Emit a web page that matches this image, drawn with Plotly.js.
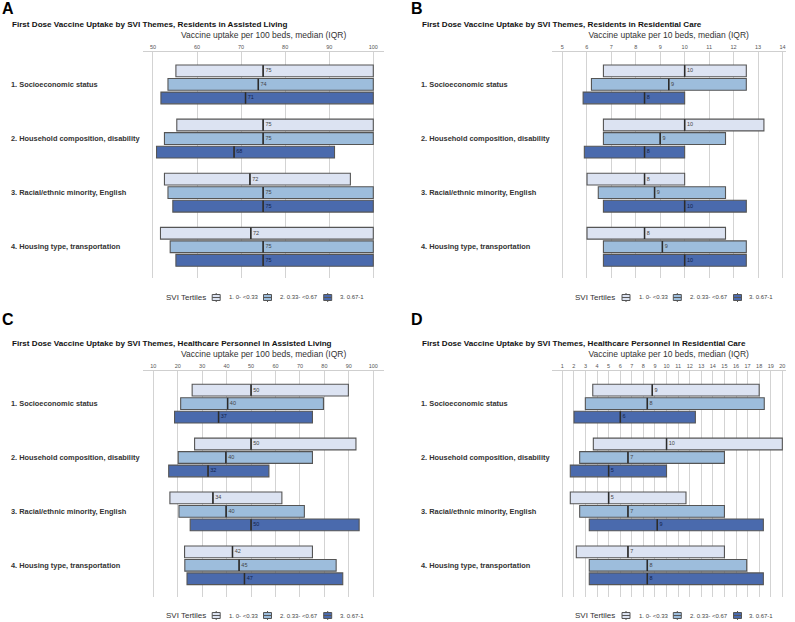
<!DOCTYPE html>
<html>
<head>
<meta charset="utf-8">
<script src="https://cdn.plot.ly/plotly-3.0.1.min.js"></script>
<style>
body { margin: 0; background: #fff; }
#chart { width: 795px; height: 622px; }
</style>
</head>
<body>
<div id="chart"></div>
<script>
var themes = ['1. Socioeconomic status', '2. Household composition, disability',
	'3. Racial/ethnic minority, English', '4. Housing type, transportation'];
var tertiles = ['1. 0- <0.33', '2. 0.33- <0.67', '3. 0.67-1'];
var fills = ['#dce3f2', '#9dbddc', '#4a6aad'];

// each array is [tertile][theme]
var aQ1 = [[55.2, 55.4, 52.6, 51.7], [53.4, 52.6, 53.4, 53.9], [51.8, 50.8, 54.5, 55.2]];
var aMed = [[75, 75, 72, 72.2], [73.9, 75, 75, 75], [71, 68.4, 75, 75]];
var aQ3 = [[100, 100, 94.8, 100], [100, 100, 100, 100], [100, 91.2, 100, 100]];

var bQ1 = [[6.68, 6.68, 6.01, 6.01], [6.19, 6.68, 6.47, 6.68], [5.85, 5.9, 6.68, 6.68]];
var bMed = [[10, 10, 8.36, 8.36], [9.35, 9, 8.77, 9.09], [8.36, 8.36, 10, 10]];
var bQ3 = [[12.52, 13.24, 10, 11.67], [12.52, 11.67, 11.67, 12.52], [10, 10, 12.52, 12.52]];

var cQ1 = [[25.9, 26.9, 16.8, 22.8], [21.2, 20.2, 20.5, 22.9], [18.7, 16.3, 25.1, 23.8]];
var cMed = [[50, 50, 34.4, 42.4], [40.4, 39.7, 39.8, 45.1], [36.7, 32.4, 50, 47.3]];
var cQ3 = [[89.8, 92.9, 62.6, 75.1], [79.6, 75.1, 71.8, 84.8], [75.1, 57.3, 94.2, 87.5]];

var dQ1 = [[3.63, 3.68, 1.69, 2.21], [2.99, 2.5, 2.5, 3.33], [2.01, 1.69, 3.33, 3.33]];
var dMed = [[8.77, 10, 5, 6.67], [8.34, 6.67, 6.67, 8.34], [6.01, 5, 9.2, 8.34]];
var dQ3 = [[18, 20, 11.68, 15], [18.44, 15, 15, 16.92], [12.49, 10, 18.36, 18.36]];

var FONT = 'Liberation Sans, Arial, sans-serif';

function fx(x) { return x / 795; } // pixel to paper
function fy(y) { return 1 - y / 622; }

var panels = [
	{letter: 'A', title: 'First Dose Vaccine Uptake by SVI Themes, Residents in Assisted Living',
	 xtitle: 'Vaccine uptake per 100 beds, median (IQR)', q1: aQ1, med: aMed, q3: aQ3,
	 range: [47.8, 102.43], dtick: 10, left: 0, top: 0},
	{letter: 'B', title: 'First Dose Vaccine Uptake by SVI Themes, Residents in Residential Care',
	 xtitle: 'Vaccine uptake per 10 beds, median (IQR)', q1: bQ1, med: bMed, q3: bQ3,
	 range: [4.566, 14.13], dtick: 1, left: 1, top: 0},
	{letter: 'C', title: 'First Dose Vaccine Uptake by SVI Themes, Healthcare Personnel in Assisted Living',
	 xtitle: 'Vaccine uptake per 100 beds, median (IQR)', q1: cQ1, med: cMed, q3: cQ3,
	 range: [5.92, 104.37], dtick: 10, left: 0, top: 1},
	{letter: 'D', title: 'First Dose Vaccine Uptake by SVI Themes, Healthcare Personnel in Residential Care',
	 xtitle: 'Vaccine uptake per 10 beds, median (IQR)', q1: dQ1, med: dMed, q3: dQ3,
	 range: [0.085, 20.29], dtick: 1, left: 1, top: 1}
];

var data = [];
var layout = {
	width: 795, height: 622,
	margin: {l: 0, r: 0, t: 0, b: 0},
	paper_bgcolor: '#fff', plot_bgcolor: '#fff',
	showlegend: false,
	font: {family: FONT, color: '#333'},
	annotations: [],
	shapes: []
};

// pixel frame of each column / row
var plotX = [[143.3, 384], [551.7, 785.7]];
var plotY = [[51.7, 278.3], [371, 596.7]];
var textX = [9, 418.5];
var titleY = [24.3, 343.8];
var letterY = [8.5, 319];
var legX = [163.5, 573.3];
var legY = [297.5, 615.5];

for (p = 0; p < panels.length; p++) {
	var pn = panels[p];
	var sfx = p == 0 ? '' : String(p + 1);
	var xa = 'x' + sfx, ya = 'y' + sfx;

	for (t = 0; t < 3; t++) {
		var pos = [];
		for (g = 0; g < 4; g++) pos.push(g * 4 + t);
		data.push({
			type: 'box', orientation: 'h', xaxis: xa, yaxis: ya,
			y: pos, q1: pn.q1[t], median: pn.med[t], q3: pn.q3[t],
			lowerfence: pn.q1[t], upperfence: pn.q3[t],
			width: 0.87, whiskerwidth: 0,
			fillcolor: fills[t], line: {color: '#555', width: 1.1},
			name: tertiles[t], hoverinfo: 'skip'
		});
		// darker median stroke
		data.push({
			type: 'scatter', mode: 'markers', xaxis: xa, yaxis: ya,
			x: pn.med[t], y: pos,
			marker: {symbol: 'line-ns', size: 8.2, line: {color: '#2b2b2b', width: 1.5}},
			cliponaxis: false, hoverinfo: 'skip'
		});
		// median value labels
		data.push({
			type: 'scatter', mode: 'markers+text', xaxis: xa, yaxis: ya,
			x: pn.med[t], y: pos,
			text: pn.med[t].map(function (v) { return String(Math.round(v)); }),
			textposition: 'middle right',
			marker: {size: 2, opacity: 0},
			textfont: {size: 5.5, family: FONT, color: t == 2 ? '#14234a' : '#444'},
			cliponaxis: false, hoverinfo: 'skip'
		});
	}

	var px0 = plotX[pn.left], py0 = plotY[pn.top];
	layout['xaxis' + sfx] = {
		domain: [fx(px0[0]), fx(px0[1])], anchor: ya, side: 'top',
		range: pn.range, tick0: 0, dtick: pn.dtick, fixedrange: true,
		showgrid: true, gridcolor: '#d3d3d3', gridwidth: 1, zeroline: false,
		showline: true, linecolor: '#cfcfcf', linewidth: 1, ticks: '',
		tickfont: {size: 5.5, color: '#555', family: FONT},
		title: {text: pn.xtitle, font: {size: 8.5, color: '#333', family: FONT}, standoff: 3}
	};
	layout['yaxis' + sfx] = {
		domain: [fy(py0[1]), fy(py0[0])], anchor: xa,
		range: [15.33, -1.42], showgrid: false, zeroline: false, showline: false,
		showticklabels: false, ticks: '', fixedrange: true
	};

	// theme labels on the left
	for (g = 0; g < 4; g++) {
		layout.annotations.push({
			xref: 'paper', yref: ya, x: fx(textX[pn.left]), y: g * 4 + 1,
			xanchor: 'left', yanchor: 'middle', showarrow: false,
			text: '<b>' + themes[g] + '</b>', font: {size: 7.4, color: '#333', family: FONT}
		});
	}
	// panel title and letter
	layout.annotations.push({
		xref: 'paper', yref: 'paper', x: fx(textX[pn.left] + 1), y: fy(titleY[pn.top]),
		xanchor: 'left', yanchor: 'middle', showarrow: false,
		text: '<b>' + pn.title + '</b>', font: {size: 8.1, color: '#111', family: FONT}
	});
	layout.annotations.push({
		xref: 'paper', yref: 'paper', x: fx(pn.left ? 409 : 0), y: fy(letterY[pn.top]),
		xanchor: 'left', yanchor: 'middle', showarrow: false,
		text: '<b>' + pn.letter + '</b>', font: {size: 16, color: '#000', family: FONT}
	});

	// legend, drawn by hand so the keys stay small
	var lx = legX[pn.left], ly = legY[pn.top];
	layout.annotations.push({
		xref: 'paper', yref: 'paper', x: fx(lx), y: fy(ly),
		xanchor: 'left', yanchor: 'middle', showarrow: false,
		text: 'SVI Tertiles', font: {size: 8, color: '#333', family: FONT}
	});
	var iconX = [52.7, 104, 164.2];
	var labX = [63.4, 114.4, 174];
	for (t = 0; t < 3; t++) {
		var cx = lx + iconX[t];
		layout.shapes.push({type: 'line', xref: 'paper', yref: 'paper',
			x0: fx(cx), x1: fx(cx), y0: fy(ly - 4.5), y1: fy(ly + 4.5),
			line: {color: '#555', width: 1}});
		layout.shapes.push({type: 'rect', xref: 'paper', yref: 'paper',
			x0: fx(cx - 4), x1: fx(cx + 4), y0: fy(ly - 3), y1: fy(ly + 3),
			fillcolor: fills[t], line: {color: '#555', width: 1}});
		layout.shapes.push({type: 'line', xref: 'paper', yref: 'paper',
			x0: fx(cx - 4), x1: fx(cx + 4), y0: fy(ly), y1: fy(ly),
			line: {color: '#555', width: 1}});
		layout.annotations.push({
			xref: 'paper', yref: 'paper', x: fx(lx + labX[t]), y: fy(ly),
			xanchor: 'left', yanchor: 'middle', showarrow: false,
			text: tertiles[t].replace('<', '&lt;'), font: {size: 6, color: '#444', family: FONT}
		});
	}
}

Plotly.newPlot(document.getElementById('chart'), data, layout, {displayModeBar: false, staticPlot: true});
</script>
</body>
</html>
